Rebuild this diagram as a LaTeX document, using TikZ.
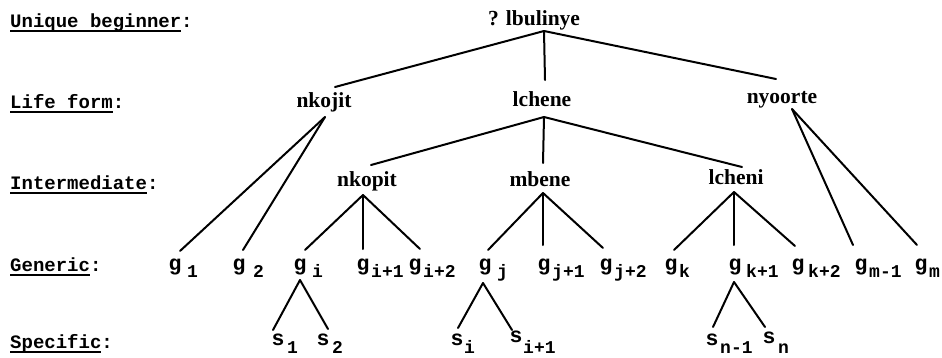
\documentclass[tikz,border=0pt]{standalone}
\usepackage{fontspec}
\setmainfont{Liberation Serif}
\newfontfamily\labmono{Liberation Mono}
\newsavebox\ulbox
\newcommand\myul[1]{\sbox\ulbox{#1}\rlap{\rule[-5.2pt]{\wd\ulbox}{2.6pt}}\usebox\ulbox}
\begin{document}
\begin{tikzpicture}[x=1pt,y=-1pt,
  lab/.style={anchor=base west,inner sep=0pt,font=\labmono\bfseries\fontsize{19}{22}\selectfont},
  word/.style={anchor=base,inner sep=0pt,font=\bfseries\fontsize{21.5}{24}\selectfont},
  letter/.style={anchor=base,inner sep=0pt,font=\labmono\bfseries\fontsize{21.5}{24}\selectfont},
  subs/.style={anchor=base west,inner sep=0pt,font=\labmono\bfseries\fontsize{18}{22}\selectfont},
  edge/.style={line width=2pt,line cap=round}]
\useasboundingbox (0,0) rectangle (942,357);

% level labels
\node[lab] (L0) at (10,27) {\myul{Unique beginner}:};
\node[lab] (L1) at (10,108) {\myul{Life form}:};
\node[lab] (L2) at (10,189) {\myul{Intermediate}:};
\node[lab] (L3) at (10,271) {\myul{Generic}:};
\node[lab] (L4) at (10,348) {\myul{Specific}:};

% tree words
\node[word] (root) at (534,25) {? lbulinye};
\node[word] (nkojit) at (324,107) {nkojit};
\node[word] (lchene) at (542,106) {lchene};
\node[word] (nyoorte) at (782,103) {nyoorte};
\node[word] (nkopit) at (367,186) {nkopit};
\node[word] (mbene) at (540,186) {mbene};
\node[word] (lcheni) at (736,184) {lcheni};

% generic letters and subscripts
\node[letter] (g1) at (175,270) {g};  \node[subs] (g1s) at (187,277) {1};
\node[letter] (g2) at (239,270) {g};  \node[subs] (g2s) at (253,277) {2};
\node[letter] (gi) at (300,270) {g};  \node[subs] (gis) at (312,277) {i};
\node[letter] (gi1) at (363,270) {g}; \node[subs] (gi1s) at (371,277) {i+1};
\node[letter] (gi2) at (415,270) {g}; \node[subs] (gi2s) at (423,277) {i+2};
\node[letter] (gj) at (485,270) {g};  \node[subs] (gjs) at (497,277) {j};
\node[letter] (gj1) at (544,270) {g}; \node[subs] (gj1s) at (552,277) {j+1};
\node[letter] (gj2) at (606,270) {g}; \node[subs] (gj2s) at (614,277) {j+2};
\node[letter] (gk) at (671,270) {g};  \node[subs] (gks) at (679,277) {k};
\node[letter] (gk1) at (735,270) {g}; \node[subs] (gk1s) at (746,277) {k+1};
\node[letter] (gk2) at (798,270) {g}; \node[subs] (gk2s) at (808,277) {k+2};
\node[letter] (gm1) at (861,270) {g}; \node[subs] (gm1s) at (869,277) {m-1};
\node[letter] (gm) at (921,270) {g};  \node[subs] (gms) at (929,277) {m};

% specific letters and subscripts
\node[letter] (s1) at (278,345) {s};   \node[subs] (s1s) at (287,353) {1};
\node[letter] (s2) at (323,345) {s};   \node[subs] (s2s) at (332,353) {2};
\node[letter] (si) at (457,345) {s};   \node[subs] (sis) at (464,353) {i};
\node[letter] (si1) at (516,342) {s};  \node[subs] (si1s) at (523,353) {i+1};
\node[letter] (sn1) at (712,345) {s};  \node[subs] (sn1s) at (720,353) {n-1};
\node[letter] (sn) at (769,343) {s};   \node[subs] (sns) at (778,353) {n};

% junction points below parents
\coordinate (root-b) at (544,31);
\coordinate (nkojit-b) at (325,117);
\coordinate (lchene-b) at (544,117);
\coordinate (nyoorte-b) at (792,109);
\coordinate (nkopit-b) at (363,195);
\coordinate (mbene-b) at (543,193);
\coordinate (lcheni-b) at (734,192);
\coordinate (gi-b) at (300,280);
\coordinate (gj-b) at (483,283);
\coordinate (gk1-b) at (734,282);

% attachment points above children
\coordinate (nkojit-t) at (335,87);
\coordinate (lchene-t) at (545,80);
\coordinate (nyoorte-t) at (776,79);
\coordinate (nkopit-t) at (371,165);
\coordinate (mbene-t) at (543,163);
\coordinate (lcheni-t) at (742,167);
\coordinate (g1-t) at (180,251);
\coordinate (g2-t) at (243,250);
\coordinate (gi-t) at (305,250);
\coordinate (gi1-t) at (363,249);
\coordinate (gi2-t) at (420,249);
\coordinate (gj-t) at (488,250);
\coordinate (gj1-t) at (543,245);
\coordinate (gj2-t) at (603,248);
\coordinate (gk-t) at (674,250);
\coordinate (gk1-t) at (734,245);
\coordinate (gk2-t) at (795,246);
\coordinate (gm1-t) at (853,245);
\coordinate (gm-t) at (917,245);
\coordinate (s1-t) at (273,330);
\coordinate (s2-t) at (328,329);
\coordinate (si-t) at (458,328);
\coordinate (si1-t) at (512,330);
\coordinate (sn1-t) at (713,327);
\coordinate (sn-t) at (765,327);

% connectors
\draw[edge] (root-b) -- (nkojit-t);
\draw[edge] (root-b) -- (lchene-t);
\draw[edge] (root-b) -- (nyoorte-t);
\draw[edge] (nkojit-b) -- (g1-t);
\draw[edge] (nkojit-b) -- (g2-t);
\draw[edge] (lchene-b) -- (nkopit-t);
\draw[edge] (lchene-b) -- (mbene-t);
\draw[edge] (lchene-b) -- (lcheni-t);
\draw[edge] (nyoorte-b) -- (gm1-t);
\draw[edge] (nyoorte-b) -- (gm-t);
\draw[edge] (nkopit-b) -- (gi-t);
\draw[edge] (nkopit-b) -- (gi1-t);
\draw[edge] (nkopit-b) -- (gi2-t);
\draw[edge] (mbene-b) -- (gj-t);
\draw[edge] (mbene-b) -- (gj1-t);
\draw[edge] (mbene-b) -- (gj2-t);
\draw[edge] (lcheni-b) -- (gk-t);
\draw[edge] (lcheni-b) -- (gk1-t);
\draw[edge] (lcheni-b) -- (gk2-t);
\draw[edge] (gi-b) -- (s1-t);
\draw[edge] (gi-b) -- (s2-t);
\draw[edge] (gj-b) -- (si-t);
\draw[edge] (gj-b) -- (si1-t);
\draw[edge] (gk1-b) -- (sn1-t);
\draw[edge] (gk1-b) -- (sn-t);
\end{tikzpicture}
\end{document}
